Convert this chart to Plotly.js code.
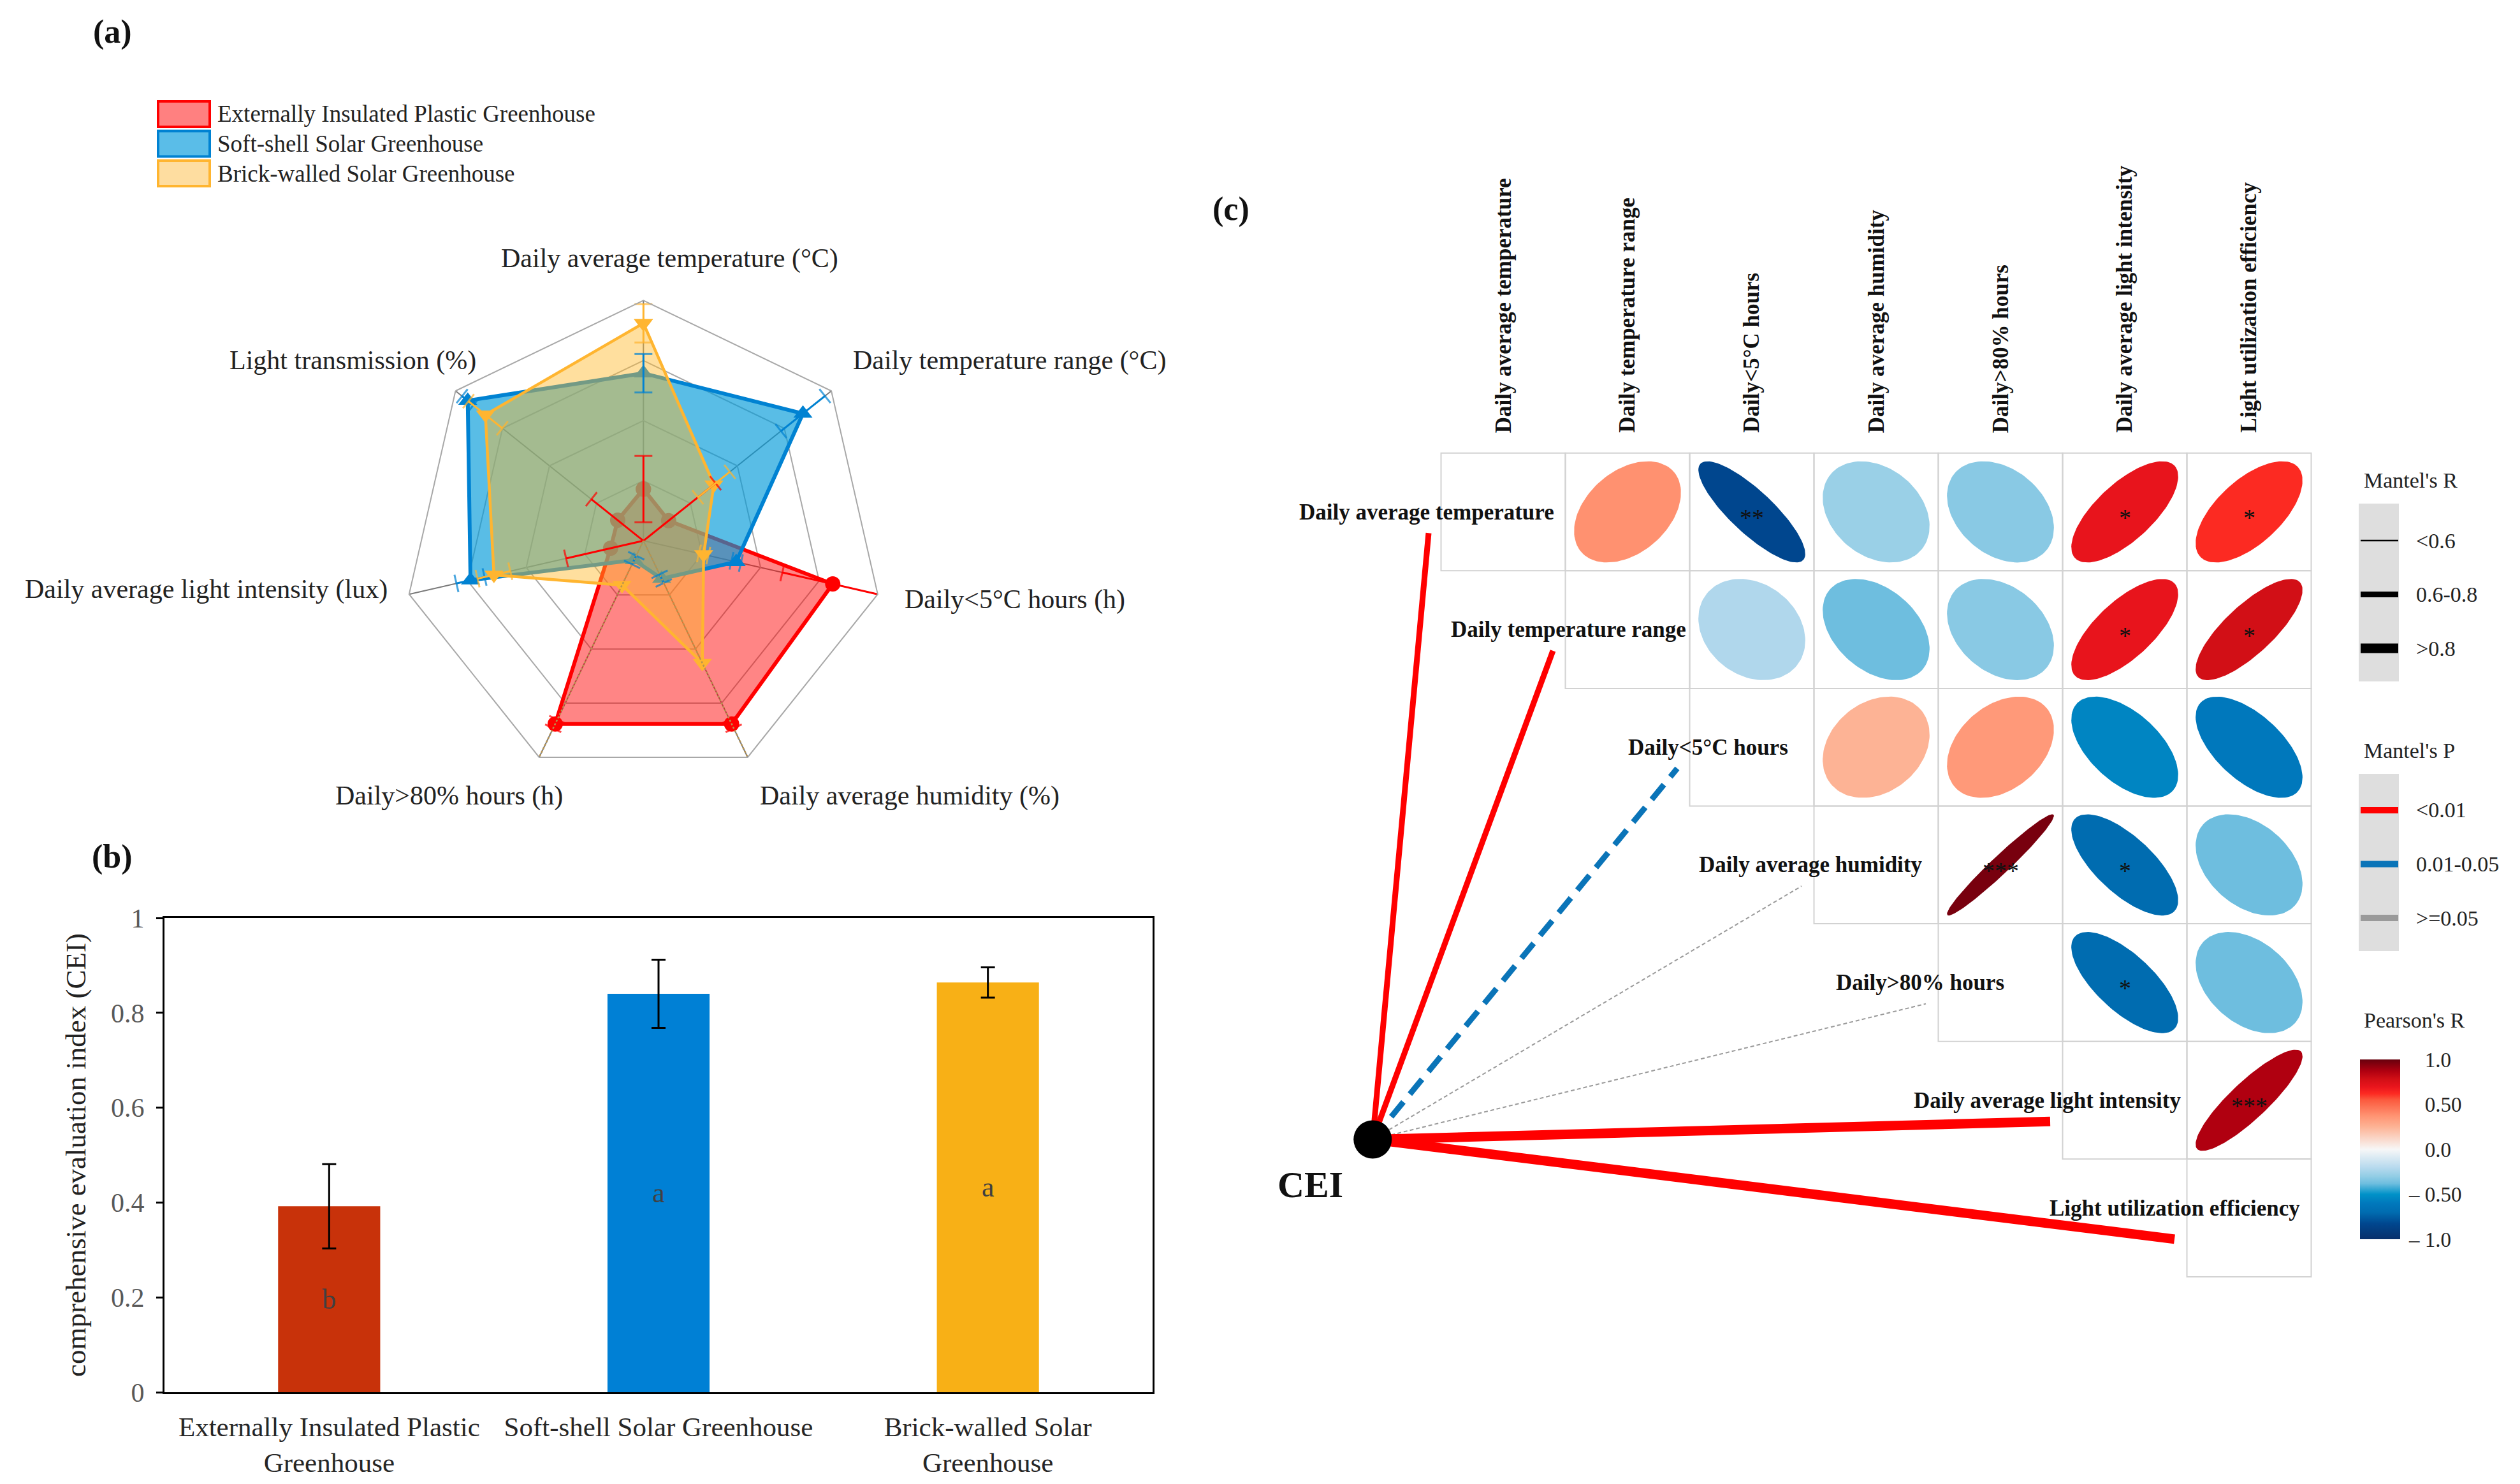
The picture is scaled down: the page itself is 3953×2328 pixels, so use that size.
<!DOCTYPE html>
<html>
<head>
<meta charset="utf-8">
<script src="https://cdn.plot.ly/plotly-3.0.1.min.js"></script>
<style>html,body{margin:0;padding:0;background:#fff;}</style>
</head>
<body>
<div id="chart" style="width:3953px;height:2328px;"></div>
<script>
// ================= DATA =================
// (a) radar: normalised indicator values (0-1) and error half-widths
const radarAxes = ['Daily average temperature (°C)', 'Daily temperature range (°C)', 'Daily<5°C hours (h)',
  'Daily average humidity (%)', 'Daily>80% hours (h)', 'Daily average light intensity (lux)', 'Light transmission (%)'];
const greenhouseTypes = ['Externally Insulated Plastic Greenhouse', 'Soft-shell Solar Greenhouse', 'Brick-walled Solar Greenhouse'];
const radarPlastic      = [0.215, 0.134, 0.808, 0.846, 0.846, 0.140, 0.137];
const radarPlasticErr   = [0.138, 0.250, 0.215, 0.020, 0.020, 0.190, 0.140];
const radarSoftShell    = [0.697, 0.849, 0.396, 0.175, 0.089, 0.738, 0.935];
const radarSoftShellErr = [0.080, 0.117, 0.020, 0.020, 0.020, 0.060, 0.030];
const radarBrick        = [0.905, 0.375, 0.257, 0.565, 0.205, 0.638, 0.841];
const radarBrickErr     = [0.080, 0.085, 0.020, 0.900, 0.900, 0.070, 0.090];

// (b) comprehensive evaluation index
const barLabels = ['Externally Insulated Plastic<br>Greenhouse', 'Soft-shell Solar Greenhouse', 'Brick-walled Solar<br>Greenhouse'];
const ceiValues = [0.392, 0.840, 0.864];
const ceiErrors = [0.089, 0.072, 0.032];
const ceiGroups = ['b', 'a', 'a'];

// (c) Pearson correlation among factors + Mantel test with CEI
const factors = ['Daily average temperature', 'Daily temperature range', 'Daily<5°C hours', 'Daily average humidity',
  'Daily>80% hours', 'Daily average light intensity', 'Light utilization efficiency'];
const pearsonR = [
  [null, 0.38, -0.83, -0.28, -0.32, 0.70, 0.62],
  [null, null, -0.22, -0.38, -0.32, 0.70, 0.78],
  [null, null, null, 0.25, 0.35, -0.55, -0.60],
  [null, null, null, null, 0.97, -0.70, -0.38],
  [null, null, null, null, null, -0.70, -0.38],
  [null, null, null, null, null, null, 0.87],
  [null, null, null, null, null, null, null]
];
const pearsonStars = [
  ['', '', '**', '', '', '*', '*'],
  ['', '', '', '', '', '*', '*'],
  ['', '', '', '', '', '', ''],
  ['', '', '', '', '***', '*', ''],
  ['', '', '', '', '', '*', ''],
  ['', '', '', '', '', '', '***'],
  ['', '', '', '', '', '', '']
];
const mantelRClass = ['0.6-0.8', '0.6-0.8', '0.6-0.8', '<0.6', '<0.6', '>0.8', '>0.8'];
const mantelPClass = ['<0.01', '<0.01', '0.01-0.05', '>=0.05', '>=0.05', '<0.01', '<0.01'];
const mantelRLegend = ['<0.6', '0.6-0.8', '>0.8'];
const mantelPLegend = ['<0.01', '0.01-0.05', '>=0.05'];
const pearsonTicks = [1, 0.5, 0, -0.5, -1];
const pearsonTickText = ['\u00A0\u00A0\u00A01.0', '\u00A0\u00A0\u00A00.50', '\u00A0\u00A0\u00A00.0', '–\u00A00.50', '–\u00A01.0'];

// ================= STYLE / LAYOUT HELPERS =================
const W = 3953, H = 2328;
const PX = x => x / W;
const PY = y => 1 - y / H;
const SERIF = 'Liberation Serif, Times New Roman, serif';

const pearsonScale = [
  [0.000, '#08306B'], [0.085, '#00468E'], [0.150, '#006CB0'], [0.200, '#0078BC'], [0.250, '#0092C8'],
  [0.310, '#6EBEDF'], [0.350, '#92CDE5'], [0.400, '#B8DAEE'], [0.500, '#F7F7F7'], [0.625, '#FDB395'],
  [0.685, '#FF9473'], [0.775, '#FB5A3E'], [0.810, '#FC2A22'], [0.850, '#E8141C'], [0.890, '#D20F16'],
  [0.935, '#B00010'], [1.000, '#67000D']
];
function hexToRgb(h) { return [parseInt(h.slice(1,3),16), parseInt(h.slice(3,5),16), parseInt(h.slice(5,7),16)]; }
function colorFor(r) {
  const t = (r + 1) / 2;
  for (let k = 1; k < pearsonScale.length; k++) {
    const [t1, c1] = pearsonScale[k];
    const [t0, c0] = pearsonScale[k - 1];
    if (t <= t1) {
      const f = (t - t0) / (t1 - t0);
      const a = hexToRgb(c0), b = hexToRgb(c1);
      return 'rgb(' + a.map((v, i) => Math.round(v + (b[i] - v) * f)).join(',') + ')';
    }
  }
  return pearsonScale[pearsonScale.length - 1][1];
}

const traces = [];
const annotations = [];
const shapes = [];
function ann(text, px, py, opt) {
  annotations.push(Object.assign({
    text: text, x: PX(px), y: PY(py), xref: 'paper', yref: 'paper', showarrow: false,
    xanchor: 'center', yanchor: 'middle', font: {family: SERIF, size: 42, color: '#222'}
  }, opt || {}));
}

// ================= (a) RADAR =================
const radarStyle = [
  {line: '#FF0000', fill: 'rgba(255,0,0,0.48)', symbol: 'circle', size: 24, width: 6},
  {line: '#0082D2', fill: 'rgba(0,153,216,0.65)', symbol: 'triangle-up', size: 26, width: 6},
  {line: '#FFB530', fill: 'rgba(255,185,40,0.45)', symbol: 'triangle-down', size: 26, width: 4.5}
];
const radarValues = [radarPlastic, radarSoftShell, radarBrick];
const radarErrors = [radarPlasticErr, radarSoftShellErr, radarBrickErr];
radarValues.forEach((vals, s) => {
  const st = radarStyle[s];
  traces.push({
    type: 'scatterpolar', name: greenhouseTypes[s], showlegend: false, hoverinfo: 'skip',
    r: vals.concat([vals[0]]), theta: radarAxes.concat([radarAxes[0]]),
    mode: 'lines+markers', fill: 'toself', fillcolor: st.fill,
    line: {color: st.line, width: st.width},
    marker: {symbol: st.symbol, size: st.size, color: st.line}
  });
});
radarValues.forEach((vals, s) => {
  const st = radarStyle[s];
  vals.forEach((v, k) => {
    const lo = v - radarErrors[s][k], hi = v + radarErrors[s][k];
    const ang = k * 360 / radarAxes.length;
    const fullSpan = lo < 0 && hi > 1;
    traces.push({
      type: 'scatterpolar', showlegend: false, hoverinfo: 'skip',
      r: [Math.max(0, lo), Math.min(1, hi)], theta: [radarAxes[k], radarAxes[k]],
      mode: 'lines+markers',
      line: fullSpan ? {color: '#B89450', width: 2.5, dash: 'dot'} : {color: st.line, width: 3},
      marker: {symbol: 'line-ew', size: [lo >= 0 ? 20 : 0, hi <= 1 ? 20 : 0], angle: ang,
               color: st.line, line: {color: st.line, width: 3}}
    });
  });
});
// radar axis labels
ann(radarAxes[0], 1050, 405);
ann(radarAxes[1], 1336, 565, {xanchor: 'left'});
ann(radarAxes[2], 1417, 940, {xanchor: 'left'});
ann(radarAxes[3], 1190, 1248, {xanchor: 'left'});
ann(radarAxes[4], 885, 1248, {xanchor: 'right'});
ann(radarAxes[5], 610, 925, {xanchor: 'right'});
ann(radarAxes[6], 749, 565, {xanchor: 'right'});
// radar legend
const legendFill = ['#FF8080', '#5ABDE8', '#FEDDA0'];
greenhouseTypes.forEach((g, s) => {
  const cy = 179 + s * 46.5;
  shapes.push({type: 'rect', xref: 'paper', yref: 'paper', x0: PX(248), x1: PX(329), y0: PY(cy - 20), y1: PY(cy + 20),
    fillcolor: legendFill[s], line: {color: radarStyle[s].line, width: 4}});
  ann(g, 339, cy, {xanchor: 'left', font: {family: SERIF, size: 37, color: '#222'}});
});

// ================= (b) BAR =================
traces.push({
  type: 'bar', x: barLabels, y: ceiValues, xaxis: 'x', yaxis: 'y', width: 0.31, showlegend: false, hoverinfo: 'skip',
  marker: {color: ['#C8320A', '#0080D5', '#F8B016']},
  error_y: {type: 'data', array: ceiErrors, visible: true, color: '#000', thickness: 3, width: 11},
  text: ceiGroups, textposition: 'inside', insidetextanchor: 'middle', textangle: 0, constraintext: 'none',
  insidetextfont: {family: SERIF, size: 44, color: '#404040'}
});

// ================= (c) CORRELATION + MANTEL =================
const n = factors.length;
// grid cells
for (let i = 0; i < n; i++) {
  for (let j = i; j < n; j++) {
    shapes.push({type: 'rect', xref: 'x2', yref: 'y2', x0: j - 0.5, x1: j + 0.5, y0: i - 0.5, y1: i + 0.5,
      line: {color: '#D2D2D2', width: 2}, fillcolor: 'rgba(0,0,0,0)', layer: 'below'});
  }
}
// Mantel links
const rWidth = {'<0.6': 2.5, '0.6-0.8': 9, '>0.8': 15};
const pColor = {'<0.01': '#FF0000', '0.01-0.05': '#0A74B8', '>=0.05': '#9A9A9A'};
const pDash = {'<0.01': 'solid', '0.01-0.05': '30px,16px', '>=0.05': '6px,4px'};
const CEI_NODE = {x: -1.05, y: 5.333};
const linkOrder = factors.map((f, i) => i).sort((a, b) => rWidth[mantelRClass[a]] - rWidth[mantelRClass[b]]);
linkOrder.forEach(i => {
  const wdt = mantelPClass[i] === '>=0.05' ? 2 : rWidth[mantelRClass[i]];
  traces.push({
    type: 'scatter', xaxis: 'x2', yaxis: 'y2', mode: 'lines', showlegend: false, hoverinfo: 'skip',
    x: [CEI_NODE.x, i - 0.6], y: [CEI_NODE.y, i + 0.18],
    line: {color: pColor[mantelPClass[i]], width: wdt, dash: pDash[mantelPClass[i]]}
  });
});
traces.push({type: 'scatter', xaxis: 'x2', yaxis: 'y2', mode: 'markers', showlegend: false, hoverinfo: 'skip',
  x: [CEI_NODE.x], y: [CEI_NODE.y], marker: {size: 60, color: '#000'}});
// ellipses
const NPT = 120;
for (let i = 0; i < n; i++) {
  for (let j = i + 1; j < n; j++) {
    const r = pearsonR[i][j];
    const d = Math.acos(r);
    const xs = [], ys = [];
    for (let k = 0; k <= NPT; k++) {
      const t = 2 * Math.PI * k / NPT;
      xs.push(j + 0.43 * Math.cos(t + d / 2));
      ys.push(i - 0.43 * Math.cos(t - d / 2));
    }
    const c = colorFor(r);
    traces.push({type: 'scatter', xaxis: 'x2', yaxis: 'y2', mode: 'lines', fill: 'toself', fillcolor: c,
      line: {width: 0, color: c}, x: xs, y: ys, showlegend: false, hoverinfo: 'skip'});
    if (pearsonStars[i][j]) {
      annotations.push({text: pearsonStars[i][j], x: j, y: i, xref: 'x2', yref: 'y2', showarrow: false,
        xanchor: 'center', yanchor: 'middle', yshift: -9, font: {family: SERIF, size: 38, color: '#111'}});
    }
  }
}
// labels for factors
const rowLabelRight = [0.42, 0.48, 0.30, 0.38, 0.04, 0.46, 0.42];
const rowLabelDy = [0, 0, 0, 0, 0, 0, -0.08];
factors.forEach((f, i) => {
  annotations.push({text: '<b>' + f + '</b>', x: i + rowLabelRight[i], y: i + rowLabelDy[i], xref: 'x2', yref: 'y2',
    showarrow: false, xanchor: 'right', yanchor: 'middle', font: {family: SERIF, size: 35, color: '#111'}});
  annotations.push({text: '<b>' + f + '</b>', x: i, y: -0.66, xref: 'x2', yref: 'y2', textangle: -90,
    showarrow: false, xanchor: 'center', yanchor: 'bottom', font: {family: SERIF, size: 35, color: '#111'}});
});
ann('<b>CEI</b>', 2055, 1858, {font: {family: SERIF, size: 58, color: '#111'}});

// Mantel's R legend
const LEGF = {family: SERIF, size: 34, color: '#222'};
ann("Mantel's R", 3706, 754, {xanchor: 'left', font: LEGF});
shapes.push({type: 'rect', xref: 'paper', yref: 'paper', x0: PX(3700), x1: PX(3763), y0: PY(790), y1: PY(1069),
  fillcolor: '#DEDEDE', line: {width: 0}});
mantelRLegend.forEach((lab, k) => {
  const yy = 848 + k * 84.5;
  shapes.push({type: 'line', xref: 'paper', yref: 'paper', x0: PX(3703), x1: PX(3762), y0: PY(yy), y1: PY(yy),
    line: {color: '#000', width: rWidth[lab]}});
  ann(lab, 3788, yy, {xanchor: 'left', font: LEGF});
});
// Mantel's P legend
ann("Mantel's P", 3706, 1177, {xanchor: 'left', font: LEGF});
shapes.push({type: 'rect', xref: 'paper', yref: 'paper', x0: PX(3700), x1: PX(3763), y0: PY(1214), y1: PY(1492),
  fillcolor: '#DEDEDE', line: {width: 0}});
mantelPLegend.forEach((lab, k) => {
  const yy = 1271 + k * 84.5;
  shapes.push({type: 'line', xref: 'paper', yref: 'paper', x0: PX(3703), x1: PX(3762), y0: PY(yy), y1: PY(yy),
    line: {color: pColor[lab], width: 10}});
  ann(lab, 3788, yy, {xanchor: 'left', font: LEGF});
});
// Pearson's R colour bar
ann("Pearson's R", 3706, 1600, {xanchor: 'left', font: LEGF});
traces.push({
  type: 'scatter', xaxis: 'x2', yaxis: 'y2', mode: 'markers', x: [-2.0], y: [-2.6], showlegend: false, hoverinfo: 'skip',
  marker: {size: 1, opacity: 0, color: [0], cmin: -1, cmax: 1, colorscale: pearsonScale, showscale: true,
    colorbar: {x: PX(3702), xanchor: 'left', xref: 'paper', y: PY(1803), yanchor: 'middle', yref: 'paper',
      len: 282, lenmode: 'pixels', thickness: 63, thicknessmode: 'pixels', outlinewidth: 0, xpad: 0, ypad: 0,
      tickmode: 'array', tickvals: pearsonTicks, ticktext: pearsonTickText, ticks: 'outside', ticklen: 8,
      tickcolor: 'rgba(0,0,0,0)', tickfont: {family: SERIF, size: 33, color: '#222'}}}
});

// panel tags
ann('<b>(a)</b>', 176, 50, {font: {family: SERIF, size: 52, color: '#111'}});
ann('<b>(b)</b>', 176, 1344, {font: {family: SERIF, size: 52, color: '#111'}});
ann('<b>(c)</b>', 1931, 328, {font: {family: SERIF, size: 52, color: '#111'}});

const layout = {
  width: W, height: H, margin: {l: 0, r: 0, t: 0, b: 0}, paper_bgcolor: '#fff', plot_bgcolor: '#fff',
  showlegend: false, font: {family: SERIF, size: 38, color: '#222'},
  polar: {
    domain: {x: [PX(632.3), PX(1386.3)], y: [PY(1225.3), PY(471.3)]},
    bgcolor: 'rgba(0,0,0,0)', gridshape: 'linear',
    radialaxis: {range: [0, 1], tickmode: 'array', tickvals: [0.25, 0.5, 0.75, 1], showticklabels: false, ticks: '',
      showline: false, gridcolor: '#A8A8A8', gridwidth: 2},
    angularaxis: {type: 'category', categoryorder: 'array', categoryarray: radarAxes, direction: 'clockwise',
      rotation: 90, showticklabels: false, ticks: '', gridcolor: '#7A7A7A', gridwidth: 2,
      showline: true, linecolor: '#A8A8A8', linewidth: 2}
  },
  xaxis: {domain: [PX(258), PX(1808)], anchor: 'y', type: 'category', showline: true, mirror: true,
    linecolor: '#000', linewidth: 3, ticks: '', showgrid: false, zeroline: false, ticklabelstandoff: 14,
    tickfont: {family: SERIF, size: 43, color: '#262626'}},
  yaxis: {domain: [PY(2184), PY(1440)], anchor: 'x', range: [0, 1], tickmode: 'array',
    tickvals: [0, 0.2, 0.4, 0.6, 0.8, 1], ticktext: ['0', '0.2', '0.4', '0.6', '0.8', '1'],
    ticks: 'outside', ticklen: 10, tickwidth: 3, tickcolor: '#000', showline: true, mirror: true,
    linecolor: '#000', linewidth: 3, showgrid: false, zeroline: false, ticklabelstandoff: 10,
    tickfont: {family: SERIF, size: 42, color: '#595959'},
    title: {text: 'comprehensive evaluation index (CEI)', standoff: 26, font: {family: SERIF, size: 45, color: '#222'}}},
  xaxis2: {domain: [PX(1950), PX(3650)], anchor: 'y2', range: [-2.09231, 6.62564], visible: false, fixedrange: true},
  yaxis2: {domain: [PY(2100), PY(300)], anchor: 'x2', range: [7.026, -2.72481], visible: false, fixedrange: true},
  annotations: annotations,
  shapes: shapes
};

Plotly.newPlot('chart', traces, layout, {staticPlot: true, displayModeBar: false});
</script>
</body>
</html>
